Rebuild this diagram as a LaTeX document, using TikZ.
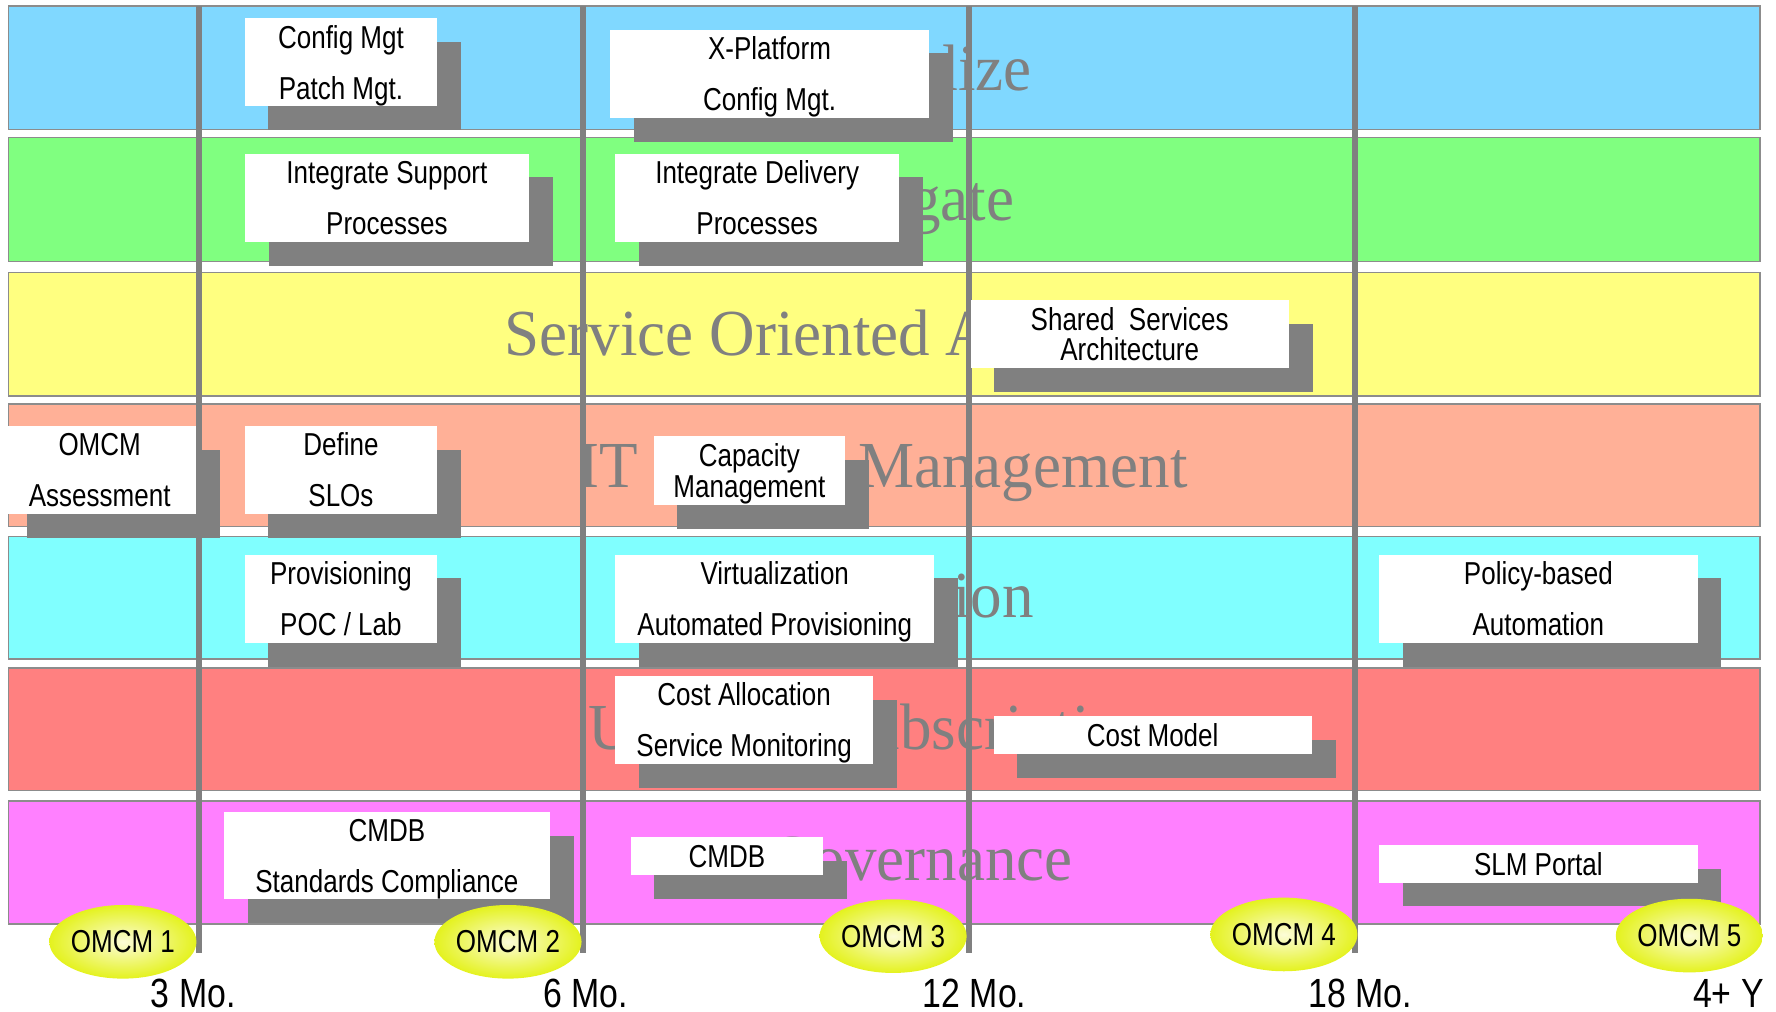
\documentclass[tikz,border=0pt]{standalone}
\usepackage{fontspec}
\newfontfamily\boxfont{Liberation Sans}[FakeStretch=0.82]
\newfontfamily\tickfont{Liberation Sans}[FakeStretch=0.83]
\newfontfamily\bandfont{Liberation Serif}[FakeStretch=0.96]
\usetikzlibrary{shapes.geometric,shadows}

% lane colours
\definecolor{laneA}{RGB}{128,216,255}
\definecolor{laneB}{RGB}{128,255,128}
\definecolor{laneC}{RGB}{255,255,128}
\definecolor{laneD}{RGB}{255,176,151}
\definecolor{laneE}{RGB}{128,255,255}
\definecolor{laneF}{RGB}{255,128,128}
\definecolor{laneG}{RGB}{255,128,255}
\definecolor{laneedge}{RGB}{140,140,140}
\definecolor{titlegray}{RGB}{128,128,128}
\definecolor{linegray}{RGB}{128,128,128}
\definecolor{shadowgray}{RGB}{128,128,128}
\definecolor{mileout}{RGB}{228,242,30}
\definecolor{milein}{RGB}{252,252,215}

% strut with cap-height balance: height - depth = cap height
\newcommand\ls{\rule[-5.9pt]{0pt}{31.85pt}}

\begin{document}
\lineskiplimit=-100pt\relax
\begin{tikzpicture}[x=1pt,y=-1pt,
  lane/.style={draw=laneedge,line width=1.4pt},
  lanetitle/.style={anchor=base,inner sep=0pt,text=titlegray,
    font=\bandfont\fontsize{58}{60}\selectfont},
  phaseline/.style={draw=linegray,line width=5pt},
  taskbox/.style={rectangle,fill=white,inner sep=0pt,align=center,
    font=\boxfont\fontsize{28}{45}\selectfont,
    drop shadow={shadow xshift=21pt,shadow yshift=-21pt,fill=shadowgray,opacity=1}},
  tight/.style={font=\boxfont\fontsize{28}{27}\selectfont},
  omcm/.style={ellipse,inner sep=0pt,minimum width=127pt,minimum height=65pt,
    inner color=milein,outer color=mileout,
    font=\boxfont\fontsize{28}{30}\selectfont},
  tick/.style={anchor=base,inner sep=0pt,font=\tickfont\fontsize{36}{40}\selectfont}
]
\useasboundingbox (0,0) rectangle (1568,893);

% horizontal lanes
\path[lane,fill=laneA] (7.5,5.5)   rectangle (1554,114.2);
\path[lane,fill=laneB] (7.5,121.5) rectangle (1554,231);
\path[lane,fill=laneC] (7.5,240.5) rectangle (1554,349.5);
\path[lane,fill=laneD] (7.5,356.7) rectangle (1554,465);
\path[lane,fill=laneE] (7.5,473.8) rectangle (1554,582);
\path[lane,fill=laneF] (7.5,590)   rectangle (1554,698);
\path[lane,fill=laneG] (7.5,707)   rectangle (1554,815.7);

% lane titles
\node[lanetitle] (tA) at (779.5,79.5)  {Standardize};
\node[lanetitle] (tB) at (779.5,195)   {Aggregate};
\node[lanetitle] (tC) at (779.5,314)   {Service Oriented Architecture};
\node[lanetitle] (tD) at (779.5,430.5) {IT Service Management};
\node[lanetitle] (tE) at (779.5,545.5) {Automation};
\node[lanetitle] (tF) at (779.5,662)   {Utility \& Subscriptions};
\node[lanetitle] (tG) at (779.5,777)   {IT Governance};

% phase boundaries
\draw[phaseline] (175.7,5.5) -- (175.7,841.5);
\draw[phaseline] (515,5.5)   -- (515,841.5);
\draw[phaseline] (855.5,5.5) -- (855.5,841.5);
\draw[phaseline] (1196,5.5)  -- (1196,841.5);

% work items
\node[taskbox,minimum width=170pt,minimum height=78pt] (cfg) at (301,55)
  {\ls Config Mgt\\\ls Patch Mgt.};
\node[taskbox,minimum width=282pt,minimum height=78pt] (xpf) at (679.4,65.2)
  {\ls X-Platform\\\ls Config Mgt.};
\node[taskbox,minimum width=251pt,minimum height=78pt] (isp) at (341.6,174.7)
  {\ls Integrate Support\\\ls Processes};
\node[taskbox,minimum width=251pt,minimum height=78pt] (idp) at (668.5,174.7)
  {\ls Integrate Delivery\\\ls Processes};
\node[taskbox,tight,minimum width=281pt,minimum height=60pt] (ssa) at (997.4,295)
  {\ls Shared\ \ Services\\\ls Architecture};
\node[taskbox,minimum width=170pt,minimum height=78pt] (asm) at (88,415)
  {\ls OMCM\\\ls Assessment};
\node[taskbox,minimum width=170pt,minimum height=78pt] (slo) at (301,415)
  {\ls Define\\\ls SLOs};
\node[taskbox,tight,minimum width=169pt,minimum height=61pt] (cap) at (661.6,415.4)
  {\ls Capacity\\\ls Management};
\node[taskbox,minimum width=170pt,minimum height=78pt] (poc) at (301,528.7)
  {\ls Provisioning\\\ls POC / Lab};
\node[taskbox,minimum width=281.5pt,minimum height=78pt] (vrt) at (684,528.7)
  {\ls Virtualization\\\ls Automated Provisioning};
\node[taskbox,minimum width=281pt,minimum height=78pt] (pol) at (1358.2,528.7)
  {\ls Policy-based\\\ls Automation};
\node[taskbox,minimum width=228pt,minimum height=78pt] (cal) at (657,635.6)
  {\ls Cost Allocation\\\ls Service Monitoring};
\node[taskbox,minimum width=281pt,minimum height=34pt] (cmo) at (1017.7,649)
  {\ls Cost Model};
\node[taskbox,minimum width=288pt,minimum height=77pt] (cmdbA) at (341.6,755.6)
  {\ls CMDB\\\ls Standards Compliance};
\node[taskbox,minimum width=170pt,minimum height=33pt] (cmdbB) at (641.8,755.8)
  {\ls CMDB};
\node[taskbox,minimum width=281pt,minimum height=33pt] (slm) at (1358.2,762.7)
  {\ls SLM Portal};

% maturity milestones
\node[omcm] (m1) at (108.5,831.5) {OMCM 1};
\node[omcm] (m2) at (448.5,831.5) {OMCM 2};
\node[omcm] (m3) at (788.5,826.5) {OMCM 3};
\node[omcm] (m4) at (1133.5,825)  {OMCM 4};
\node[omcm] (m5) at (1491.5,826)  {OMCM 5};

% time axis
\node[tick] (k3)  at (170.6,889.3) {3 Mo.};
\node[tick] (k6)  at (517.3,889.3) {6 Mo.};
\node[tick] (k12) at (860.5,889.3) {12 Mo.};
\node[tick] (k18) at (1201,889.3)  {18 Mo.};
\node[tick,anchor=base west] (k48) at (1494.6,889.3) {4+ Y};
\end{tikzpicture}
\end{document}
